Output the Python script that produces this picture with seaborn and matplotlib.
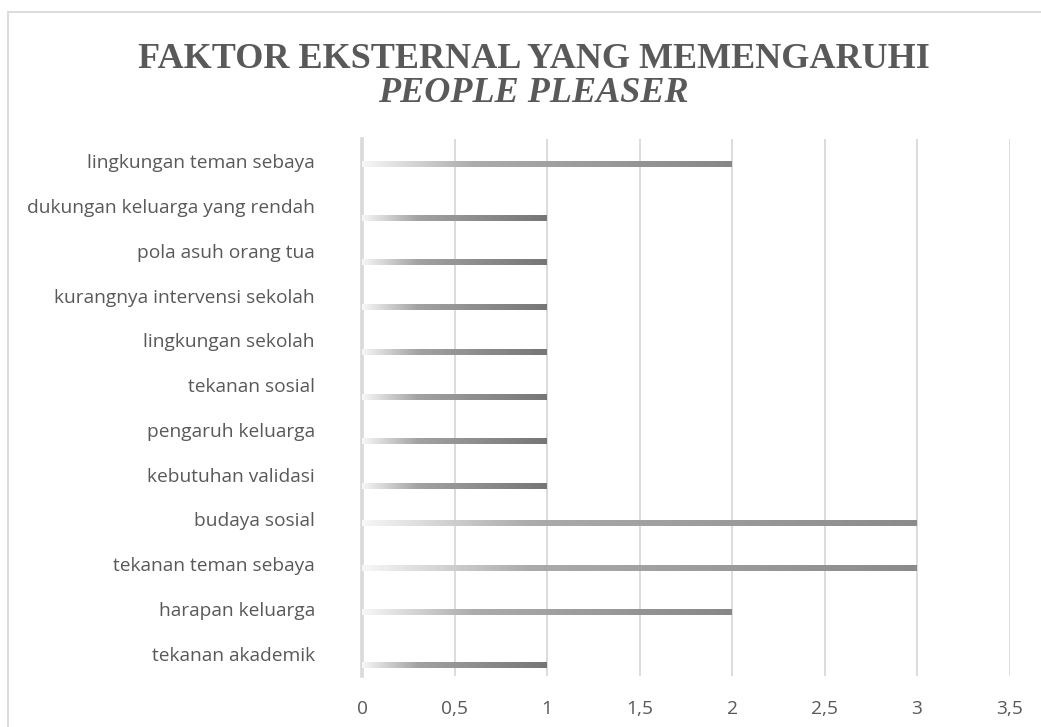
import numpy as np
import pandas as pd
import seaborn as sns
import matplotlib.pyplot as plt
from matplotlib.colors import LinearSegmentedColormap
from matplotlib.patches import Rectangle

categories = [
    "lingkungan teman sebaya", "dukungan keluarga yang rendah", "pola asuh orang tua",
    "kurangnya intervensi sekolah", "lingkungan sekolah", "tekanan sosial",
    "pengaruh keluarga", "kebutuhan validasi", "budaya sosial",
    "tekanan teman sebaya", "harapan keluarga", "tekanan akademik",
]
values = [2, 1, 1, 1, 1, 1, 1, 1, 3, 3, 2, 1]
x_ticks = [0, 0.5, 1, 1.5, 2, 2.5, 3, 3.5]

TEXT = "#595959"
GRID = "#d9d9d9"

# gradient shades per bar length (start, middle, end)
shades = {
    1: ["#f7f7f7", "#a2a2a2", "#767676"],
    2: ["#f7f7f7", "#acacac", "#878787"],
    3: ["#f7f7f7", "#ababab", "#8b8b8b"],
}
# bars of value 1 sit lower in their band
shift = {1: 0.26, 2: 0.07, 3: 0.08}

sns.set_theme(style="white")
plt.rcParams["font.family"] = ["Open Sans", "DejaVu Sans"]

W, H = 1041, 727
fig = plt.figure(figsize=(W / 100, H / 100), dpi=100)
ax = fig.add_axes([362 / W, 1 - 676 / H, (1009.5 - 362) / W, (676 - 139) / H])

df = pd.DataFrame({"faktor": categories, "jumlah": values})
sns.barplot(data=df, x="jumlah", y="faktor", orient="h", width=0.13,
            color="#999999", ax=ax, zorder=3)

for patch, v in zip(ax.patches, values):
    patch.set_y(patch.get_y() + shift[v])
    x0, y0 = patch.get_x(), patch.get_y()
    w, h = patch.get_width(), patch.get_height()
    cmap = LinearSegmentedColormap.from_list("g", list(zip([0, 0.3, 1], shades[v])))
    ax.imshow(np.linspace(0, 1, 256)[None, :], extent=[x0, x0 + w, y0 + h, y0],
              cmap=cmap, aspect="auto", interpolation="bilinear", zorder=3)
    patch.set_visible(False)

ax.set_xlim(0, 3.5)
ax.set_ylim(len(categories) - 0.5, -0.5)
ax.set_xticks(x_ticks)
ax.set_xticklabels([f"{t:g}".replace(".", ",") for t in x_ticks])
ax.set_xlabel("")
ax.set_ylabel("")
ax.grid(axis="x", color=GRID, linewidth=1.3, zorder=0)
ax.set_axisbelow(True)
for s in ["top", "right", "bottom"]:
    ax.spines[s].set_visible(False)
ax.spines["left"].set_color(GRID)
ax.spines["left"].set_linewidth(2.6)
ax.tick_params(axis="both", length=0, labelsize=13.8, labelcolor=TEXT)
ax.tick_params(axis="x", pad=17)
ax.tick_params(axis="y", pad=34)

fig.text(533.5 / W, 1 - 60 / H, "FAKTOR EKSTERNAL YANG MEMENGARUHI", ha="center", va="center",
         family="Liberation Serif", fontweight="bold", fontsize=26, color=TEXT)
fig.text(533.5 / W, 1 - 94 / H, "PEOPLE PLEASER", ha="center", va="center",
         family="Liberation Serif", fontweight="bold", fontstyle="italic", fontsize=26, color=TEXT)

fig.patches.append(Rectangle((8 / W, -0.05), 1.2, 1.05 - 12 / H, transform=fig.transFigure,
                             fill=False, edgecolor=GRID, linewidth=1.3))

fig.savefig("out.png", dpi=100)
